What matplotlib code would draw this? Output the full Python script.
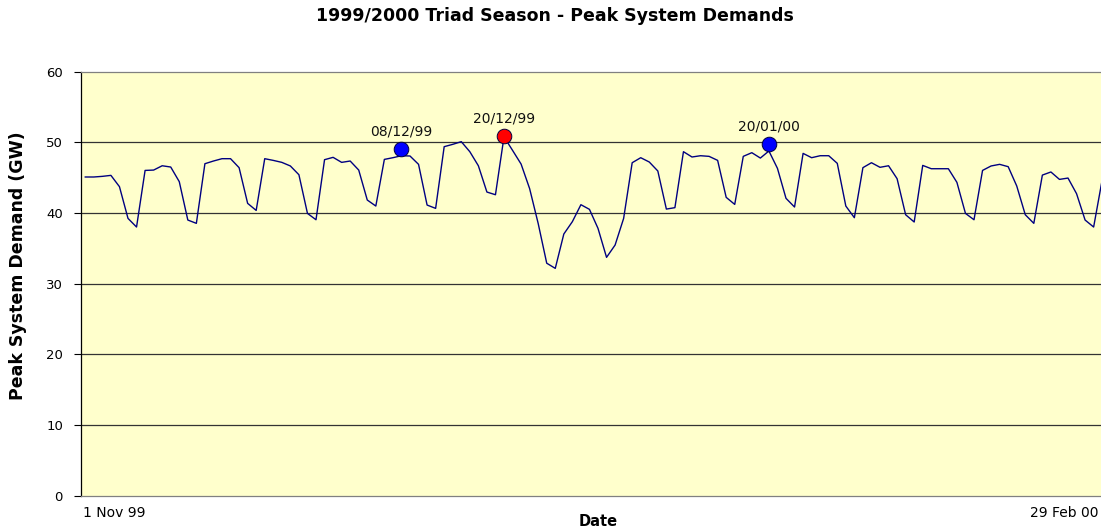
import numpy as np
import pandas as pd
import matplotlib
matplotlib.use('Agg')
import matplotlib.pyplot as plt

plt.rcParams['font.family'] = ['DejaVu Sans']

# Datos: demanda pico diaria (GW), 1 Nov 99 - 29 Feb 00
fechas = pd.date_range('1999-11-01', '2000-02-29', freq='D')
demanda = [
    45.10, 45.10, 45.19, 45.33, 43.73, 39.24, 38.02, 46.03, 46.08, 46.69,
    46.51, 44.44, 39.01, 38.54, 46.98, 47.36, 47.69, 47.69, 46.42, 41.37,
    40.37, 47.69, 47.45, 47.17, 46.66, 45.42, 39.95, 39.05, 47.55, 47.88,
    47.17, 47.36, 46.08, 41.84, 40.99, 47.59, 47.83, 48.11, 48.07, 46.89,
    41.13, 40.66, 49.39, 49.72, 50.10, 48.68, 46.69, 42.97, 42.59, 50.78,
    48.87, 46.93, 43.45, 38.52, 32.90, 32.17, 37.03, 38.78, 41.18, 40.52,
    37.83, 33.73, 35.47, 39.24, 47.12, 47.83, 47.22, 45.95, 40.56, 40.76,
    48.68, 47.93, 48.11, 48.02, 47.45, 42.22, 41.22, 48.02, 48.54, 47.78,
    48.78, 46.32, 42.08, 40.85, 48.44, 47.83, 48.11, 48.11, 47.03, 40.99,
    39.34, 46.42, 47.12, 46.47, 46.69, 44.86, 39.76, 38.73, 46.74, 46.27,
    46.27, 46.27, 44.34, 39.95, 39.05, 46.03, 46.66, 46.89, 46.56, 43.83,
    39.76, 38.54, 45.37, 45.81, 44.76, 44.95, 42.74, 39.01, 38.02, 44.70,
    45.10,
]

# Puntos Triad
triad_fechas = ['1999-12-08', '1999-12-20', '2000-01-20']
triad_etiquetas = ['08/12/99', '20/12/99', '20/01/00']
triad_valores = [49.07, 50.90, 49.80]
triad_colores = ['#0000FF', '#FF0000', '#0000FF']

y_ticks = [0, 10, 20, 30, 40, 50, 60]

fig = plt.figure(figsize=(11.01, 5.29), dpi=100, facecolor='white')
# el eje sigue a la derecha del borde de la imagen (recortado como en el original)
ax = fig.add_axes([81 / 1101, 33.3 / 529, 1034 / 1101, 424 / 529])
ax.set_facecolor('#FFFFCC')

x = np.arange(len(fechas))
ax.plot(x, demanda, color='#000080', lw=1.0, zorder=3)

for f, etq, val, col in zip(triad_fechas, triad_etiquetas, triad_valores, triad_colores):
    i = fechas.get_loc(pd.Timestamp(f))
    ax.plot(i, val, 'o', ms=10.5, color=col, mec='#000040', mew=0.7, zorder=4)
    ax.annotate(etq, (i, val), xytext=(0, 12.5), textcoords='offset points',
                ha='center', va='center', fontsize=10, color='#111111')

ax.set_xlim(-0.5, len(fechas) - 0.5)
ax.set_ylim(0, 60)
ax.set_yticks(y_ticks)
ax.set_yticklabels([str(v) for v in y_ticks], fontsize=9.5)
ax.tick_params(axis='y', length=5, width=0.8, pad=8, color='black')
ax.set_xticks([])

for v in y_ticks[1:-1]:
    ax.axhline(v, color='#333333', lw=0.9, zorder=2)

ax.spines['left'].set_color('black')
ax.spines['left'].set_linewidth(0.9)
for s in ['top', 'bottom', 'right']:
    ax.spines[s].set_color('#808080')
    ax.spines[s].set_linewidth(0.9)

# Textos
fig.text(555 / 1101, 1 - 16 / 529, '1999/2000 Triad Season - Peak System Demands',
         ha='center', va='center', fontsize=12.5, fontweight='bold')
fig.text(18 / 1101, 1 - 266 / 529, 'Peak System Demand (GW)', rotation=90,
         ha='center', va='center', fontsize=12.5, fontweight='bold')
fig.text(598 / 1101, 1 - 522 / 529, 'Date', ha='center', va='center',
         fontsize=10.5, fontweight='bold')
fig.text(83 / 1101, 1 - 513 / 529, '1 Nov 99', ha='left', va='center', fontsize=10)
fig.text(1098 / 1101, 1 - 513 / 529, '29 Feb 00', ha='right', va='center', fontsize=10)

fig.savefig('out.png', dpi=100, facecolor='white')
